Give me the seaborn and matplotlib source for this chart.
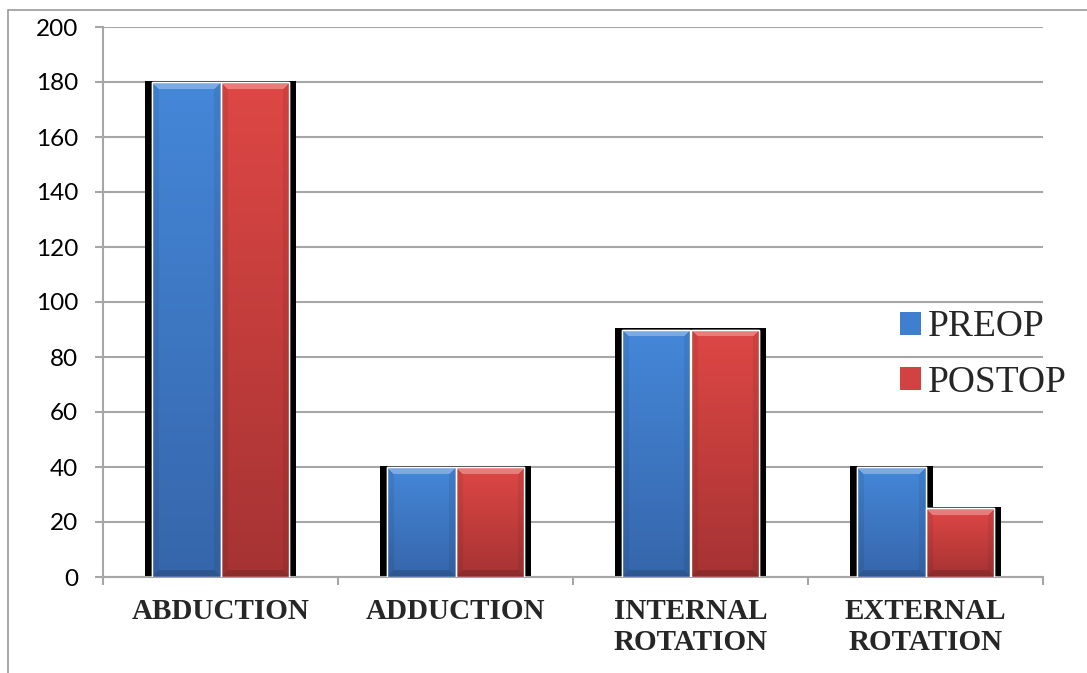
import numpy as np
import pandas as pd
import matplotlib
matplotlib.use("Agg")
import matplotlib.pyplot as plt
import seaborn as sns
from matplotlib.patches import Rectangle, Patch
from matplotlib.font_manager import FontProperties

# ---- data ----
categories = ["ABDUCTION", "ADDUCTION", "INTERNAL\nROTATION", "EXTERNAL\nROTATION"]
series = ["PREOP", "POSTOP"]
preop = [180, 40, 90, 40]
postop = [180, 40, 90, 25]
yticks = [0, 20, 40, 60, 80, 100, 120, 140, 160, 180, 200]

df = pd.DataFrame({
    "category": categories * 2,
    "series": [series[0]] * len(categories) + [series[1]] * len(categories),
    "value": preop + postop,
})

# ---- style ----
W, H = 1087, 673
blue_mid, red_mid = "#3F7FCF", "#D24242"
blue_top, blue_bot = np.array([0.27, 0.53, 0.85]), np.array([0.21, 0.40, 0.67])
red_top, red_bot = np.array([0.87, 0.28, 0.27]), np.array([0.65, 0.20, 0.20])
grid_c = "#A6A6A6"

sns.set_theme(style="white")
plt.rcParams["font.family"] = ["Lato", "DejaVu Sans"]

fig = plt.figure(figsize=(W / 100, H / 100), dpi=100)
ax = fig.add_axes([103 / W, 96 / H, 940 / W, 550 / H])

sns.barplot(data=df, x="category", y="value", hue="series", order=categories,
            hue_order=series, palette=[blue_mid, red_mid], width=0.58, gap=0,
            saturation=1, edgecolor="white", linewidth=1.0, ax=ax, legend=False)

ax.set_xlim(-0.5, len(categories) - 0.5)
ax.set_ylim(0, 200)

px_per_x = 940 / len(categories)
px_per_y = 550 / 200.0

bars = [p for p in ax.patches if isinstance(p, Rectangle) and p.get_height() > 0]
for p in bars:
    x, w, h = p.get_x(), p.get_width(), p.get_height()
    fc = p.get_facecolor()
    is_blue = fc[2] > fc[0]
    top_c, bot_c = (blue_top, blue_bot) if is_blue else (red_top, red_bot)
    # shadow
    dx = 7 / px_per_x
    dy = 1.5 / px_per_y
    sh = Rectangle((x - dx, 0), w + 2 * dx, h + dy, facecolor="black",
                   edgecolor="none", zorder=2)
    ax.add_patch(sh)
    p.set_zorder(3)
    # gradient with bevel
    hp = max(int(round(h * px_per_y)), 4)
    wp = max(int(round(w * px_per_x)), 4)
    t = np.linspace(0, 1, hp)[:, None, None]
    img = top_c[None, None, :] * (1 - t) + bot_c[None, None, :] * t
    img = np.repeat(img, wp, axis=1)
    rr, cc = np.mgrid[0:hp, 0:wp]
    d_top, d_bot = rr, hp - 1 - rr
    d_left, d_right = cc, wp - 1 - cc
    b = 7
    dmin = np.minimum(np.minimum(d_top, d_bot), np.minimum(d_left, d_right))
    inb = dmin < b
    top_m = inb & (d_top == dmin)
    bot_m = inb & (d_bot == dmin) & ~top_m
    side_m = inb & ~top_m & ~bot_m
    img[top_m] = img[top_m] * 0.7 + 0.3
    img[bot_m] = img[bot_m] * 0.85
    img[side_m] = img[side_m] * 0.93
    img = np.clip(img, 0, 1)
    im = ax.imshow(img, extent=[x, x + w, 0, h], aspect="auto", zorder=3.1,
                   interpolation="bilinear")
    im.set_clip_path(p)
    ol = Rectangle((x, 0), w, h, facecolor="none", edgecolor="white",
                   linewidth=1.0, zorder=3.2)
    ax.add_patch(ol)

ax.set_xlim(-0.5, len(categories) - 0.5)
ax.set_ylim(0, 200)
ax.set_aspect("auto")

# ---- axes styling ----
for s in ["top", "right"]:
    ax.spines[s].set_visible(False)
for s in ["left", "bottom"]:
    ax.spines[s].set_color(grid_c)
    ax.spines[s].set_linewidth(1.5)
ax.set_axisbelow(True)
ax.yaxis.grid(True, color=grid_c, linewidth=1.5)
ax.xaxis.grid(False)

ax.set_yticks(yticks)
ax.set_yticklabels([str(v) for v in yticks], fontsize=17.5, color="black")
ax.tick_params(axis="y", direction="out", length=8 * 0.72, width=1.5,
               color=grid_c, pad=12, left=True)

ax.set_xticks(range(len(categories)))
ax.set_xticklabels(categories, fontsize=21, fontweight="bold",
                   family=["Liberation Serif", "DejaVu Serif"], linespacing=1.2)
ax.tick_params(axis="x", which="major", length=0, pad=15)
ax.set_xticks([i - 0.5 for i in range(len(categories) + 1)], minor=True)
ax.tick_params(axis="x", which="minor", direction="out", length=8 * 0.72,
               width=1.5, color=grid_c, bottom=True)
ax.set_xlabel("")
ax.set_ylabel("")

# ---- legend ----
handles = [Patch(facecolor=blue_mid, edgecolor="none"),
           Patch(facecolor=red_mid, edgecolor="none")]
ax.legend(handles, series, loc="upper left",
          bbox_to_anchor=(900 / W, 1 - 310 / H), bbox_transform=fig.transFigure,
          frameon=False, prop=FontProperties(family="Liberation Serif", size=27),
          handlelength=0.55, handleheight=0.55, handletextpad=0.2,
          labelspacing=0.55, borderpad=0, borderaxespad=0)

# ---- outer frame ----
fig.add_artist(Rectangle((8 / W, -0.1), 2, 1 - 10 / H + 0.1,
                         transform=fig.transFigure, fill=False,
                         edgecolor="#9A9A9A", linewidth=1.2))

fig.savefig("out.png", dpi=100)
